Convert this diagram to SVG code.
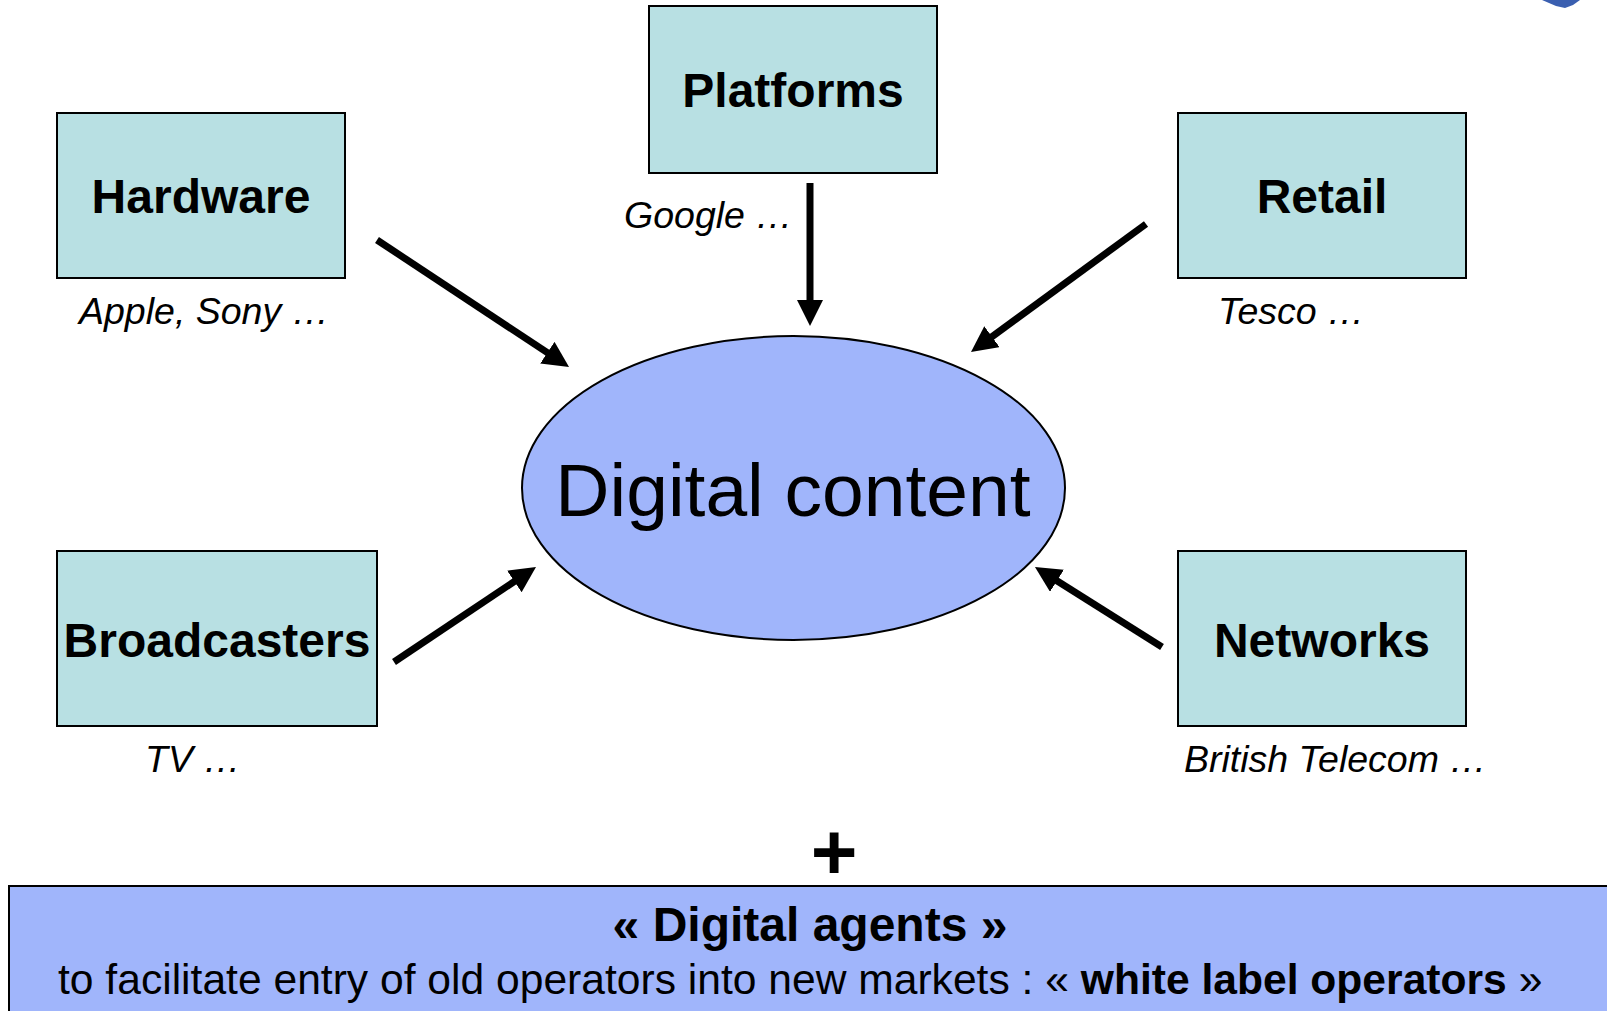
<svg xmlns="http://www.w3.org/2000/svg" width="1607" height="1011" viewBox="0 0 1607 1011">
<style>
  .box { fill: #b8e0e3; stroke: #000; stroke-width: 2; }
  .blue { fill: #a0b5fb; stroke: #000; stroke-width: 2; }
  .lbl { font-family: "Liberation Sans", Arial, sans-serif; font-weight: bold; font-size: 48px; text-anchor: middle; fill: #000; }
  .sub { font-family: "Liberation Sans", Arial, sans-serif; font-style: italic; font-size: 37.5px; fill: #000; }
  .conn { stroke: #000; stroke-width: 7; fill: none; marker-end: url(#ah); }
</style>
<defs>
  <marker id="ah" markerUnits="userSpaceOnUse" markerWidth="27" markerHeight="27" refX="10" refY="13" orient="auto" viewBox="0 0 27 27">
    <path d="M0,0 L26,13 L0,26 z" fill="#000"/>
  </marker>
</defs>
<rect width="1607" height="1011" fill="#fff"/>
<polygon points="1542,0 1580,0 1573,5 1565,8 1556,6" fill="#3a5fb0"/>

<g id="connectors">
  <line class="conn" x1="377" y1="240" x2="555.7" y2="358.2"/>
  <line class="conn" x1="810" y1="183" x2="810" y2="310"/>
  <line class="conn" x1="1146" y1="224" x2="983.9" y2="342.6"/>
  <line class="conn" x1="394" y1="662" x2="522.7" y2="575.9"/>
  <line class="conn" x1="1162" y1="647" x2="1048.5" y2="575.5"/>
</g>

<g id="digital-content">
  <ellipse class="blue" cx="793.5" cy="488" rx="271.5" ry="152" stroke-width="1.5"/>
  <text x="793" y="516" font-family="Liberation Sans, Arial, sans-serif" font-size="75" text-anchor="middle">Digital content</text>
</g>

<g id="platforms">
  <rect class="box" x="649" y="6" width="288" height="167"/>
  <text class="lbl" x="793" y="107">Platforms</text>
  <text class="sub" x="624" y="228">Google …</text>
</g>

<g id="hardware">
  <rect class="box" x="57" y="113" width="288" height="165"/>
  <text class="lbl" x="201" y="213">Hardware</text>
  <text class="sub" x="79" y="324">Apple, Sony …</text>
</g>

<g id="retail">
  <rect class="box" x="1178" y="113" width="288" height="165"/>
  <text class="lbl" x="1322" y="213">Retail</text>
  <text class="sub" x="1218" y="324">Tesco …</text>
</g>

<g id="broadcasters">
  <rect class="box" x="57" y="551" width="320" height="175"/>
  <text class="lbl" x="217" y="657">Broadcasters</text>
  <text class="sub" x="145" y="772">TV …</text>
</g>

<g id="networks">
  <rect class="box" x="1178" y="551" width="288" height="175"/>
  <text class="lbl" x="1322" y="657">Networks</text>
  <text class="sub" x="1184" y="772">British Telecom …</text>
</g>

<g id="plus">
  <text x="834" y="879" font-family="Liberation Sans, Arial, sans-serif" font-weight="bold" font-size="80" text-anchor="middle">+</text>
</g>

<g id="digital-agents">
  <rect class="blue" x="9" y="886" width="1640" height="200"/>
  <text class="lbl" x="810" y="941" font-size="47.5">« Digital agents »</text>
  <text x="58" y="994" font-family="Liberation Sans, Arial, sans-serif" font-size="42.6">to facilitate entry of old operators into new markets : « <tspan font-weight="bold">white label operators</tspan> »</text>
</g>
</svg>
